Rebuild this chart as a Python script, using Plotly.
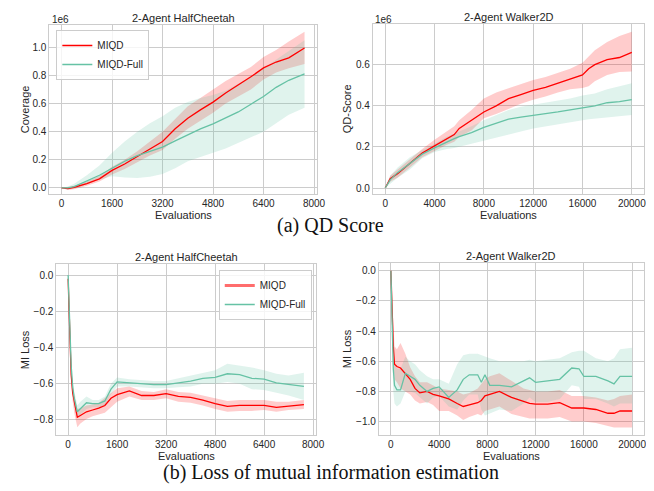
import plotly.graph_objects as go

# ---------------- DATA ----------------
# (a) top-left: 2-Agent HalfCheetah coverage (x1e6)
hc_qd_x = [0, 200, 400, 800, 1200, 1600, 2000, 2400, 2800, 3200, 3600, 4000, 4400,
           4800, 5200, 5600, 6000, 6400, 6800, 7200, 7700]
hc_qd_miqd = [0, -0.005, 0.005, 0.03, 0.065, 0.125, 0.17, 0.222, 0.275, 0.33, 0.42, 0.495,
              0.555, 0.61, 0.675, 0.73, 0.79, 0.853, 0.895, 0.925, 0.995]
hc_qd_miqd_hi = [0.0, 0.005, 0.015, 0.045, 0.085, 0.15, 0.2, 0.26, 0.33, 0.40, 0.49, 0.58,
                 0.64, 0.70, 0.76, 0.81, 0.86, 0.93, 0.98, 1.04, 1.11]
hc_qd_miqd_lo = [0.0, -0.015, -0.01, 0.015, 0.045, 0.095, 0.135, 0.18, 0.23, 0.27, 0.35,
                 0.42, 0.48, 0.535, 0.6, 0.65, 0.7, 0.77, 0.82, 0.85, 0.88]
hc_qd_full = [0, 0.0, 0.01, 0.05, 0.09, 0.14, 0.19, 0.23, 0.26, 0.29, 0.335, 0.38, 0.42,
              0.455, 0.495, 0.54, 0.595, 0.65, 0.715, 0.765, 0.81]
hc_qd_full_hi = [0, 0.01, 0.03, 0.09, 0.16, 0.25, 0.33, 0.40, 0.46, 0.51, 0.57, 0.61, 0.64,
                 0.66, 0.69, 0.74, 0.79, 0.85, 0.91, 0.97, 1.05]
hc_qd_full_lo = [0, -0.01, -0.005, 0.03, 0.06, 0.083, 0.075, 0.07, 0.08, 0.1, 0.14, 0.19,
                 0.22, 0.25, 0.28, 0.32, 0.36, 0.40, 0.46, 0.52, 0.57]

# (a) top-right: 2-Agent Walker2D QD-Score (x1e6)
wk_qd_x = [0, 400, 1000, 2000, 3000, 4000, 5000, 5600, 6000, 7000, 8000, 9000, 10000,
           11000, 12000, 13000, 14000, 15000, 16000, 16500, 17000, 18000, 19000, 20000]
wk_qd_miqd = [0, 0.045, 0.07, 0.12, 0.17, 0.205, 0.24, 0.26, 0.29, 0.33, 0.37, 0.40, 0.435,
              0.455, 0.475, 0.49, 0.51, 0.53, 0.55, 0.58, 0.60, 0.625, 0.635, 0.66]
wk_qd_miqd_hi = [0, 0.06, 0.09, 0.14, 0.19, 0.235, 0.275, 0.30, 0.33, 0.38, 0.435, 0.465,
                 0.485, 0.505, 0.525, 0.54, 0.56, 0.58, 0.61, 0.64, 0.67, 0.71, 0.74, 0.76]
wk_qd_miqd_lo = [0, 0.03, 0.05, 0.10, 0.15, 0.18, 0.21, 0.225, 0.25, 0.28, 0.34, 0.36, 0.385,
                 0.41, 0.43, 0.445, 0.465, 0.48, 0.487, 0.495, 0.52, 0.55, 0.565, 0.567]
wk_qd_full = [0, 0.04, 0.075, 0.12, 0.165, 0.195, 0.225, 0.24, 0.25, 0.27, 0.295, 0.315,
              0.335, 0.345, 0.355, 0.362, 0.37, 0.38, 0.39, 0.395, 0.40, 0.415, 0.42, 0.43]
wk_qd_full_hi = [0, 0.06, 0.10, 0.15, 0.185, 0.215, 0.25, 0.265, 0.275, 0.30, 0.33, 0.355,
                 0.38, 0.395, 0.405, 0.415, 0.425, 0.435, 0.45, 0.455, 0.46, 0.48, 0.495, 0.51]
wk_qd_full_lo = [0, 0.02, 0.05, 0.09, 0.145, 0.175, 0.19, 0.195, 0.20, 0.215, 0.23, 0.245,
                 0.26, 0.275, 0.29, 0.30, 0.31, 0.32, 0.33, 0.335, 0.34, 0.345, 0.35, 0.355]

# (b) bottom-left: 2-Agent HalfCheetah MI loss
hc_mi_x = [0, 50, 100, 150, 200, 300, 400, 600, 800, 1000, 1200, 1400, 1600, 2000, 2400,
           2800, 3200, 3600, 4000, 4400, 4800, 5200, 5600, 6000, 6400, 6800, 7200, 7700]
hc_mi_miqd = [-0.02, -0.3, -0.55, -0.65, -0.7, -0.785, -0.775, -0.755, -0.745, -0.735, -0.72,
              -0.68, -0.66, -0.64, -0.665, -0.665, -0.655, -0.67, -0.675, -0.69, -0.71,
              -0.725, -0.72, -0.72, -0.72, -0.73, -0.725, -0.715]
hc_mi_miqd_hi = [0.0, -0.25, -0.5, -0.6, -0.66, -0.74, -0.735, -0.72, -0.715, -0.705, -0.68,
                 -0.65, -0.625, -0.615, -0.64, -0.645, -0.63, -0.645, -0.65, -0.665, -0.68,
                 -0.695, -0.69, -0.69, -0.69, -0.7, -0.7, -0.69]
hc_mi_miqd_lo = [-0.05, -0.35, -0.6, -0.7, -0.76, -0.84, -0.82, -0.795, -0.78, -0.77, -0.76,
                 -0.73, -0.7, -0.67, -0.69, -0.69, -0.68, -0.7, -0.705, -0.72, -0.74,
                 -0.755, -0.75, -0.75, -0.745, -0.755, -0.745, -0.74]
hc_mi_full = [0, -0.3, -0.5, -0.62, -0.68, -0.755, -0.74, -0.705, -0.71, -0.71, -0.695, -0.63,
              -0.59, -0.595, -0.6, -0.605, -0.605, -0.595, -0.585, -0.57, -0.565, -0.545,
              -0.55, -0.57, -0.575, -0.595, -0.605, -0.615]
hc_mi_full_hi = [0, -0.25, -0.45, -0.58, -0.64, -0.72, -0.7, -0.67, -0.69, -0.69, -0.67, -0.6,
                 -0.565, -0.575, -0.58, -0.585, -0.585, -0.57, -0.555, -0.54, -0.525, -0.49,
                 -0.5, -0.51, -0.525, -0.545, -0.555, -0.54]
hc_mi_full_lo = [0, -0.35, -0.55, -0.66, -0.72, -0.79, -0.77, -0.74, -0.73, -0.73, -0.72,
                 -0.66, -0.615, -0.615, -0.62, -0.625, -0.625, -0.62, -0.615, -0.6, -0.6,
                 -0.59, -0.6, -0.63, -0.635, -0.65, -0.665, -0.69]

# (b) bottom-right: 2-Agent Walker2D MI loss
wk_mi_x = [0, 100, 200, 300, 500, 800, 1200, 1600, 2000, 2400, 3000, 3500, 4000, 4800, 5500,
           6000, 6500, 7200, 7500, 7800, 8200, 9000, 10000, 11000, 11500, 12000, 13000,
           14000, 15000, 15600, 16000, 17000, 18000, 18500, 19000, 20000]
wk_mi_miqd = [0, -0.3, -0.5, -0.62, -0.635, -0.645, -0.68, -0.72, -0.78, -0.81, -0.80, -0.82,
              -0.83, -0.85, -0.88, -0.9, -0.89, -0.875, -0.86, -0.83, -0.82, -0.8, -0.84,
              -0.87, -0.88, -0.885, -0.885, -0.875, -0.91, -0.91, -0.91, -0.92, -0.945,
              -0.945, -0.93, -0.93]
wk_mi_miqd_hi = [0, -0.2, -0.4, -0.5, -0.52, -0.48, -0.55, -0.64, -0.7, -0.74, -0.74, -0.76,
                 -0.78, -0.79, -0.8, -0.82, -0.81, -0.78, -0.75, -0.72, -0.7, -0.68, -0.73,
                 -0.78, -0.79, -0.8, -0.8, -0.79, -0.83, -0.83, -0.83, -0.84, -0.86, -0.85,
                 -0.83, -0.82]
wk_mi_miqd_lo = [0, -0.4, -0.6, -0.72, -0.74, -0.78, -0.8, -0.82, -0.86, -0.88, -0.87, -0.89,
                 -0.93, -0.93, -0.96, -0.99, -0.97, -0.95, -0.96, -0.93, -0.92, -0.9, -0.95,
                 -0.97, -0.98, -0.98, -0.98, -0.97, -1.0, -1.0, -1.0, -1.01, -1.03, -1.04,
                 -1.04, -1.04]
wk_mi_full = [0, -0.4, -0.65, -0.76, -0.79, -0.79, -0.68, -0.7, -0.72, -0.76, -0.8, -0.78,
              -0.77, -0.84, -0.79, -0.72, -0.69, -0.69, -0.74, -0.69, -0.76, -0.76, -0.77,
              -0.73, -0.71, -0.74, -0.73, -0.72, -0.645, -0.65, -0.7, -0.7, -0.73, -0.75,
              -0.7, -0.7]
wk_mi_full_hi = [0, -0.3, -0.5, -0.6, -0.65, -0.65, -0.57, -0.6, -0.62, -0.66, -0.7, -0.72,
                 -0.72, -0.75, -0.62, -0.56, -0.55, -0.55, -0.56, -0.57, -0.58, -0.6, -0.6,
                 -0.6, -0.59, -0.6, -0.59, -0.58, -0.54, -0.53, -0.53, -0.58, -0.6, -0.58,
                 -0.52, -0.51]
wk_mi_full_lo = [0, -0.5, -0.8, -0.88, -0.9, -0.88, -0.8, -0.8, -0.81, -0.84, -0.88, -0.84,
                 -0.83, -0.9, -0.92, -0.86, -0.82, -0.82, -0.92, -0.96, -0.95, -0.92, -0.93,
                 -0.88, -0.84, -0.87, -0.87, -0.85, -0.76, -0.77, -0.85, -0.85, -0.88, -0.9,
                 -0.88, -0.88]

series_names = ["MIQD", "MIQD-Full"]
panel_titles = ["2-Agent HalfCheetah", "2-Agent Walker2D", "2-Agent HalfCheetah", "2-Agent Walker2D"]
y_titles = ["Coverage", "QD-Score", "MI Loss", "MI Loss"]
x_title = "Evaluations"
captions = ["(a) QD Score", "(b) Loss of mutual information estimation"]

hc_xticks = [0, 1600, 3200, 4800, 6400, 8000]
wk_xticks = [0, 4000, 8000, 12000, 16000, 20000]
qd_hc_yticks = [0, 0.2, 0.4, 0.6, 0.8, 1.0]
qd_wk_yticks = [0, 0.2, 0.4, 0.6]
mi_hc_yticks = [0, -0.2, -0.4, -0.6, -0.8]
mi_wk_yticks = [0, -0.2, -0.4, -0.6, -0.8, -1.0]

# ---------------- STYLE ----------------
W, H = 654, 491
RED = "#ff0000"
RED_FILL = "rgba(255,0,0,0.2)"
GREEN = "#66c2a5"
GREEN_FILL = "rgba(102,194,165,0.2)"
GRID = "#cccccc"
TXT = "#262626"
SANS = "Liberation Sans, Arial, sans-serif"
SERIF = "Liberation Serif, Times New Roman, serif"

# pixel boxes: (left, right, top, bottom)
boxes = [(42, 313, 17, 186), (370, 645, 16, 186), (49, 312, 256, 427), (376, 645, 255, 427)]

panels = [
    (hc_qd_x, hc_qd_miqd, hc_qd_miqd_lo, hc_qd_miqd_hi, hc_qd_full, hc_qd_full_lo, hc_qd_full_hi),
    (wk_qd_x, wk_qd_miqd, wk_qd_miqd_lo, wk_qd_miqd_hi, wk_qd_full, wk_qd_full_lo, wk_qd_full_hi),
    (hc_mi_x, hc_mi_miqd, hc_mi_miqd_lo, hc_mi_miqd_hi, hc_mi_full, hc_mi_full_lo, hc_mi_full_hi),
    (wk_mi_x, wk_mi_miqd, wk_mi_miqd_lo, wk_mi_miqd_hi, wk_mi_full, wk_mi_full_lo, wk_mi_full_hi),
]
xranges = [[-385, 8085], [-1000, 21000], [-385, 8085], [-1000, 21000]]
yranges = [[-0.043, 1.158], [-0.029, 0.798], [-0.883, 0.061], [-1.089, 0.051]]
xticks = [hc_xticks, wk_xticks, hc_xticks, wk_xticks]
yticks = [qd_hc_yticks, qd_wk_yticks, mi_hc_yticks, mi_wk_yticks]

fig = go.Figure()

for i, (x, m1, l1, h1, m2, l2, h2) in enumerate(panels):
    xa = "x" if i == 0 else f"x{i+1}"
    ya = "y" if i == 0 else f"y{i+1}"
    for lo, hi, fc in ((l1, h1, RED_FILL), (l2, h2, GREEN_FILL)):
        fig.add_trace(go.Scatter(
            x=list(x) + list(x)[::-1], y=list(hi) + list(lo)[::-1],
            fill="toself", fillcolor=fc, line=dict(width=0), mode="lines",
            hoverinfo="skip", showlegend=False, xaxis=xa, yaxis=ya))
    for m, c, nm in ((m1, RED, series_names[0]), (m2, GREEN, series_names[1])):
        fig.add_trace(go.Scatter(
            x=x, y=m, mode="lines", line=dict(color=c, width=1.3), name=nm,
            showlegend=(i == 0), legend="legend", xaxis=xa, yaxis=ya))

# legend entries for the bottom-left panel
fig.add_trace(go.Scatter(x=[None], y=[None], mode="lines", name=series_names[0],
                         line=dict(color="rgba(255,60,60,0.75)", width=3),
                         legend="legend2", xaxis="x3", yaxis="y3"))
fig.add_trace(go.Scatter(x=[None], y=[None], mode="lines", name=series_names[1],
                         line=dict(color=GREEN, width=1.3),
                         legend="legend2", xaxis="x3", yaxis="y3"))

layout = dict(
    width=W, height=H, autosize=False,
    margin=dict(l=0, r=0, t=0, b=0),
    paper_bgcolor="white", plot_bgcolor="white",
    font=dict(family=SANS, size=10, color=TXT),
    legend=dict(x=49 / W, y=1 - 22 / H, xanchor="left", yanchor="top",
                bordercolor=GRID, borderwidth=1, bgcolor="rgba(255,255,255,0.8)",
                font=dict(size=10, color=TXT), itemwidth=30, tracegroupgap=0),
    legend2=dict(x=308 / W, y=1 - 262 / H, xanchor="right", yanchor="top",
                 bordercolor=GRID, borderwidth=1, bgcolor="rgba(255,255,255,0.8)",
                 font=dict(size=10, color=TXT), itemwidth=30, tracegroupgap=0),
)

annotations = []
for i, (l, r, t, b) in enumerate(boxes):
    sfx = "" if i == 0 else str(i + 1)
    layout["xaxis" + sfx] = dict(
        domain=[l / W, r / W], range=xranges[i], anchor="y" + sfx,
        tickvals=xticks[i], ticktext=[str(v) for v in xticks[i]], ticks="",
        showgrid=True, gridcolor=GRID, gridwidth=1,
        zeroline=False, showline=True, linecolor=GRID, linewidth=1, mirror=True,
        tickfont=dict(size=10, color=TXT))
    layout["yaxis" + sfx] = dict(
        domain=[1 - b / H, 1 - t / H], range=yranges[i], anchor="x" + sfx,
        tickvals=yticks[i], tickformat=".1f", ticks="", showgrid=True, gridcolor=GRID,
        gridwidth=1, zeroline=False, showline=True, linecolor=GRID, linewidth=1, mirror=True,
        tickfont=dict(size=10, color=TXT))
    cx = (l + r) / 2
    annotations.append(dict(text=panel_titles[i], x=cx / W, y=1 - (t - 7) / H, xref="paper",
                            yref="paper", showarrow=False, xanchor="center", yanchor="middle",
                            font=dict(size=11, color=TXT)))
    annotations.append(dict(text=x_title, x=cx / W, y=1 - (b + 21) / H, xref="paper",
                            yref="paper", showarrow=False, xanchor="center", yanchor="middle",
                            font=dict(size=11, color=TXT)))
    ylab_x = 17 if l < 100 else 344
    annotations.append(dict(text=y_titles[i], x=ylab_x / W, y=1 - (t + b) / 2 / H, xref="paper",
                            yref="paper", showarrow=False, xanchor="center", yanchor="middle",
                            textangle=-90, font=dict(size=11, color=TXT)))
    if i < 2:
        annotations.append(dict(text="1e6", x=(l + 0.5) / W, y=1 - (t - 5) / H, xref="paper",
                                yref="paper", showarrow=False, xanchor="left", yanchor="middle",
                                font=dict(size=10, color=TXT)))

annotations.append(dict(text=captions[0], x=327 / W, y=1 - 217 / H, xref="paper", yref="paper",
                        showarrow=False, xanchor="center", yanchor="middle",
                        font=dict(family=SERIF, size=20, color="#111111")))
annotations.append(dict(text=captions[1], x=327 / W, y=1 - 464 / H, xref="paper", yref="paper",
                        showarrow=False, xanchor="center", yanchor="middle",
                        font=dict(family=SERIF, size=20, color="#111111")))
layout["annotations"] = annotations

fig.update_layout(**layout)
fig.write_html("out.html")
